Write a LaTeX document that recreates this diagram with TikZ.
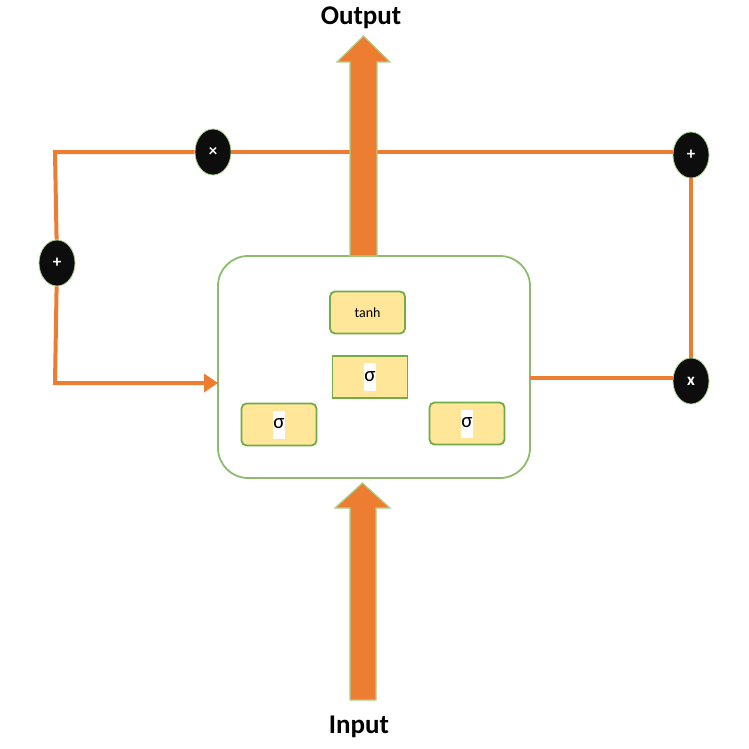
\documentclass[tikz,border=0pt]{standalone}
\usepackage{fontspec}
\setmainfont{Carlito}
\usetikzlibrary{arrows.meta,shapes.geometric}
\definecolor{org}{HTML}{ED7D31}
\definecolor{grn}{HTML}{70AD47}
\definecolor{lgrn}{HTML}{A9D18E}
\definecolor{ylw}{HTML}{FFE699}
\definecolor{blk}{HTML}{0D0D0D}
\tikzset{
  oline/.style={draw=org, line width=4pt},
  gate/.style={ellipse, fill=blk, draw=lgrn, line width=0.8pt, minimum width=36pt, minimum height=46pt, inner sep=0pt, text=white, font=\fontsize{17}{18}\selectfont\bfseries},
  unit/.style={draw=grn, line width=1.8pt, fill=ylw, rounded corners=5pt, minimum width=75pt, minimum height=42pt, inner sep=0pt},
  sig/.style={unit, font=\fontsize{21}{22}\selectfont},
  bigarrow/.style={fill=org, draw=lgrn, line width=1.2pt},
  lbl/.style={font=\fontsize{27}{30}\selectfont\bfseries, text=black}
}
\begin{document}
\begin{tikzpicture}[x=1pt,y=-1pt]
\useasboundingbox (0,0) rectangle (749,749);
% main cell
\node[draw=grn!80, line width=1.8pt, fill=white, rounded corners=30pt, minimum width=312pt, minimum height=222pt] (cell) at (374,367) {};
% gates
\node[gate] (mul1) at (213,152) {×};
\node[gate] (add1) at (57,263) {+};
\node[gate] (add2) at (691,155) {+};
\node[gate] (mul2) at (691,381) {x};
\coordinate (c1) at (55,152);
\coordinate (c2) at (55,383);
\coordinate (in1) at (218,383);
\coordinate (out1) at (530,378);
% connectors
\draw[oline] (mul1) -- (c1) -- (add1);
\draw[oline] (mul1) -- (add2.west |- mul1);
\draw[oline] (add2) -- (mul2);
\draw[oline] (out1) -- (mul2.west |- out1);
\draw[oline, -{Triangle[length=14pt,width=18pt]}] (add1) -- (c2) -- (in1);
% output arrow
\draw[bigarrow] (350,256) -- (350,62) -- (337,62) -- (363.5,36) -- (390,62) -- (377,62) -- (377,256) -- cycle;
% input arrow
\draw[bigarrow] (350,700) -- (350,508) -- (335,508) -- (362.5,483) -- (390,508) -- (376,508) -- (376,700) -- cycle;
\node[lbl] (out) at (361,18) {Output};
\node[lbl] (in) at (359,727) {Input};
% inner units
\node[unit, font=\fontsize{14}{15}\selectfont] (tanh) at (367.5,312.5) {tanh};
\node[sig, rounded corners=0pt] (s1) at (370,377) {\colorbox{white}{\kern-3pt\strut σ\kern-3pt}};
\node[sig] (s2) at (279,424.5) {\colorbox{white}{\kern-3pt\strut σ\kern-3pt}};
\node[sig] (s3) at (467,423.5) {\colorbox{white}{\kern-3pt\strut σ\kern-3pt}};
\end{tikzpicture}
\end{document}
